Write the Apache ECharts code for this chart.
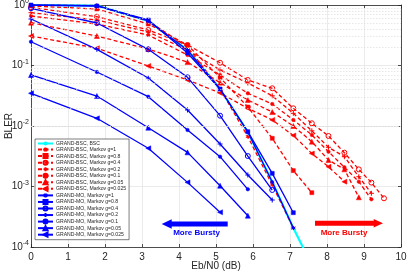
<!DOCTYPE html>
<html><head><meta charset="utf-8">
<script src="https://cdn.jsdelivr.net/npm/echarts@6/dist/echarts.min.js"></script>
<style>html,body{margin:0;padding:0;background:#fff}#c{width:407px;height:274px}</style>
</head><body><div id="c"></div>
<script>
// Eb/N0 grid (dB)
const X = [0, 1.78, 3.17, 4.23, 5.11, 5.86, 6.52, 7.09, 7.59, 8.04, 8.47, 8.86, 9.2, 9.54];
const xTicks = [0,1,2,3,4,5,6,7,8,9,10];
const yTickExps = [-4, -3, -2, -1, 0];
const gValues = ['1', '0.8', '0.4', '0.2', '0.1', '0.05', '0.025'];

// BLER values, aligned with X from index 0
const bscBLER = [1.0, 0.98, 0.544, 0.180, 0.0409, 0.00796, 0.00119, 0.000206, 0.00005];

const bscMarkov_g1     = [1.0, 0.98, 0.544, 0.202, 0.0409, 0.00667, 0.00106, 0.000206];
const bscMarkov_g08    = [0.963, 0.859, 0.485, 0.218, 0.0629, 0.0206, 0.00626, 0.00183, 0.00079];
const bscMarkov_g04    = [0.916, 0.641, 0.386, 0.218, 0.111, 0.0576, 0.0420, 0.0196, 0.0111, 0.00684, 0.00362, 0.00192, 0.00116, 0.000638];
const bscMarkov_g02    = [0.746, 0.565, 0.358, 0.180, 0.0843, 0.0514, 0.0316, 0.0162, 0.00833, 0.00445, 0.00311, 0.00145, 0.000772];
const bscMarkov_g01    = [0.658, 0.485, 0.319, 0.149, 0.0697, 0.0347, 0.0231, 0.0126, 0.00710, 0.00376, 0.00208, 0.00120, 0.000614];
const bscMarkov_g005   = [0.510, 0.307, 0.187, 0.114, 0.0520, 0.0269, 0.0170, 0.0100, 0.00550, 0.00274, 0.00192, 0.000663];
const bscMarkov_g0025  = [0.307, 0.193, 0.0982, 0.0576, 0.0351, 0.0196, 0.0126, 0.00697, 0.00351, 0.00212, 0.00120];

const moMarkov_g1      = [1.0, 0.98, 0.544, 0.180, 0.0409, 0.00796, 0.00119, 0.000206];
const moMarkov_g08     = [1.0, 0.963, 0.565, 0.161, 0.0409, 0.00805, 0.00165, 0.000369];
const moMarkov_g04     = [0.882, 0.504, 0.185, 0.0638, 0.0148, 0.00319, 0.000875];
const moMarkov_g02     = [0.587, 0.185, 0.0621, 0.0184, 0.00504, 0.00155, 0.000598];
const moMarkov_g01     = [0.247, 0.0781, 0.0305, 0.00859, 0.00311, 0.000899];
const moMarkov_g005    = [0.0697, 0.0313, 0.00937, 0.00367, 0.00103, 0.000329];
const moMarkov_g0025   = [0.0347, 0.0134, 0.00428, 0.00117, 0.000375];

const BLUE = '#0000ff', RED = '#ff0000', CYAN = '#00ffff', AX = '#262626';
const STAR = 'path://M0,-5L0,5M-4.33,-2.5L4.33,2.5M-4.33,2.5L4.33,-2.5';
const PLUS = 'path://M0,-5L0,5M-5,0L5,0';
const markers = [
  {symbol: STAR, size: 4, hollow: true},
  {symbol: 'rect', size: 4},
  {symbol: 'circle', size: 5, hollow: true},
  {symbol: PLUS, size: 5, hollow: true},
  {symbol: 'circle', size: 3.5},
  {symbol: 'triangle', size: 5},
  {symbol: 'triangle', size: 5, rotate: 90}
];
function pts(arr) { return arr.map((v, i) => [X[i], v]); }
function mk(name, arr, color, dashed, m) {
  return {
    name, type: 'line', data: pts(arr), xAxisIndex: 0, yAxisIndex: 0,
    symbol: m.symbol, symbolSize: m.size, symbolRotate: m.rotate || 0, showSymbol: true,
    lineStyle: {color, width: 1.3, type: dashed ? [4, 2.5] : 'solid'},
    itemStyle: m.hollow ? {color: 'rgba(0,0,0,0)', borderColor: color, borderWidth: 1} : {color, borderColor: color, borderWidth: 0.5},
    emphasis: {disabled: true}, animation: false, clip: true, z: dashed ? 3 : 4
  };
}
const redSets = [bscMarkov_g1, bscMarkov_g08, bscMarkov_g04, bscMarkov_g02, bscMarkov_g01, bscMarkov_g005, bscMarkov_g0025];
const blueSets = [moMarkov_g1, moMarkov_g08, moMarkov_g04, moMarkov_g02, moMarkov_g01, moMarkov_g005, moMarkov_g0025];

const series = [];
const minor = [];
for (let k = -4; k < 0; k++) for (let m = 2; m <= 9; m++) minor.push({yAxis: m * Math.pow(10, k)});
series.push({type: 'line', data: [], silent: true, xAxisIndex: 0, yAxisIndex: 0,
  markLine: {silent: true, symbol: 'none', animation: false, label: {show: false},
    lineStyle: {color: '#dcdcdc', type: [1.5, 1.5], width: 0.7}, data: minor}});
series.push({name: 'GRAND-BSC, BSC', type: 'line', data: pts(bscBLER), showSymbol: false, symbol: 'none',
  lineStyle: {color: CYAN, width: 2.2}, itemStyle: {color: CYAN}, animation: false, clip: true, z: 2});
gValues.forEach((g, i) => series.push(mk('GRAND-BSC, Markov g=' + g, redSets[i], RED, true, markers[i])));
gValues.forEach((g, i) => series.push(mk('GRAND-MO, Markov g=' + g, blueSets[i], BLUE, false, markers[i])));

const legendNames = ['GRAND-BSC, BSC']
  .concat(gValues.map(g => 'GRAND-BSC, Markov g=' + g))
  .concat(gValues.map(g => 'GRAND-MO, Markov g=' + g));

const chart = echarts.init(document.getElementById('c'), null, {renderer: 'canvas'});
const FONT = 'Liberation Sans, Arial, Helvetica, sans-serif';
const axisCommon = {
  axisLine: {show: true, onZero: false, lineStyle: {color: AX, width: 0.8}},
  axisTick: {show: true, inside: true, length: 3, lineStyle: {color: AX, width: 0.8}}
};
chart.setOption({
  animation: false,
  textStyle: {fontFamily: FONT},
  grid: {left: 31, right: 6, top: 5, bottom: 27, containLabel: false, outerBoundsMode: 'none'},
  xAxis: [
    Object.assign({type: 'value', min: 0, max: 10, interval: 1, position: 'bottom',
      name: 'Eb/N0 (dB)', nameLocation: 'middle', nameGap: 14, nameMoveOverlap: false,
      nameTextStyle: {fontSize: 10, color: AX, fontFamily: FONT},
      axisLabel: {fontSize: 10, color: AX, margin: 5, fontFamily: FONT,
        formatter: v => xTicks.includes(v) ? String(v) : ''},
      splitLine: {show: true, lineStyle: {color: '#e6e6e6', width: 0.8}}}, axisCommon),
    Object.assign({type: 'value', min: 0, max: 10, interval: 1, position: 'top',
      axisLabel: {show: false}, splitLine: {show: false}}, axisCommon)
  ],
  yAxis: [
    Object.assign({type: 'log', logBase: 10, min: 1e-4, max: 1, position: 'left',
      name: 'BLER', nameLocation: 'middle', nameGap: 17, nameRotate: 90, nameMoveOverlap: false,
      nameTextStyle: {fontSize: 10, color: AX, fontFamily: FONT},
      axisLabel: {show: false},
      splitLine: {show: true, lineStyle: {color: '#e6e6e6', width: 0.8}}}, axisCommon),
    Object.assign({type: 'log', logBase: 10, min: 1e-4, max: 1, position: 'right',
      axisLabel: {show: false}, splitLine: {show: false}}, axisCommon)
  ],
  legend: {
    data: legendNames, orient: 'vertical', left: 35, top: 139,
    itemWidth: 15, itemHeight: 5, itemGap: 0.55,
    padding: [2, 3, 2, 2],
    backgroundColor: '#ffffff', borderColor: AX, borderWidth: 0.6, borderRadius: 0,
    textStyle: {fontSize: 5.1, lineHeight: 5, color: AX, fontFamily: FONT, padding: [0, 0, 0, -2]},
    selectedMode: false, z: 10
  },
  series
});

// y tick labels (10^k with superscript), positioned through the y axis
const yLabels = yTickExps.map(e => {
  const py = chart.convertToPixel({yAxisIndex: 0}, Math.pow(10, e));
  const px = chart.convertToPixel({xAxisIndex: 0}, 0) - 2;
  return {type: 'text', x: px, y: py, silent: true, z: 20,
    style: {text: '{b|10}{s|' + e + '}', align: 'right', verticalAlign: 'middle',
      rich: {b: {fontSize: 10, fill: AX, fontFamily: FONT},
             s: {fontSize: 7, fill: AX, fontFamily: FONT, padding: [0, 0, 7, 0]}}}};
});

// annotation arrows (pixel positions of the annotations)
function arrow(xTail, xTip, y, color, text, tx, ty, hl, hh) {
  const dir = Math.sign(xTip - xTail), sh = 2.5;
  const xb = xTip - dir * hl;
  const points = [[xTail, y - sh], [xb, y - sh], [xb, y - hh], [xTip, y], [xb, y + hh], [xb, y + sh], [xTail, y + sh]];
  return [
    {type: 'polygon', shape: {points}, style: {fill: color}, silent: true, z: 20},
    {type: 'text', x: tx, y: ty, style: {text, fill: color, font: 'bold 8px ' + FONT, align: 'center', verticalAlign: 'middle'}, silent: true, z: 20}
  ];
}
chart.setOption({graphic: [].concat(
  yLabels,
  arrow(227.7, 161.7, 224, BLUE, 'More Bursty', 196.5, 233, 10, 4.7),
  arrow(315, 383, 223.3, RED, 'More Bursty', 344, 232.5, 9.3, 4.2)
)});
</script></body></html>
